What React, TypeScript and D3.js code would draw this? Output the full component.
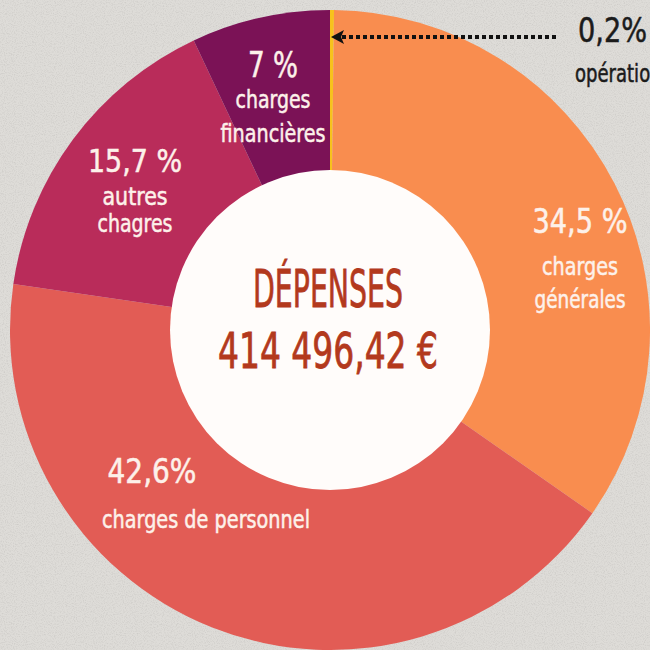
import React, { useRef, useEffect } from "react";
import * as d3 from "d3";

// budget split, clockwise from 12 o'clock
const categories = ["opérations", "charges générales", "charges de personnel", "autres chagres", "charges financières"];
const shares = [0.2, 34.5, 42.6, 15.7, 7];
const percentLabels = ["0,2%", "34,5 %", "42,6%", "15,7 %", "7 %"];
const nameLines = [["opérations"], ["charges", "générales"], ["charges de personnel"], ["autres", "chagres"], ["charges", "financières"]];
const sliceColors = ["#f7c21c", "#f98d4f", "#e25c55", "#b92c5a", "#7b1256"];
const centerTitle = "DÉPENSES";
const centerTotal = "414 496,42 €";

const SIZE = 650;
const FONT = "'Liberation Sans Narrow', 'DejaVu Sans Condensed', 'Roboto', sans-serif";

// hand placed label boxes: x, anchor, baselines, sizes, fitted widths
const labelLayout = {
  "opérations": { x: 578, anchor: "start", pct: [42, 34, 69], lines: [[82, 24, 96]], color: "#1b1b1b" },
  "charges générales": { x: 580, anchor: "middle", pct: [233, 34, 95], lines: [[275, 24, 76], [308, 24, 91]], color: "#fdf1ea" },
  "charges de personnel": { x: 152, anchor: "middle", pct: [483, 33, 89], lines: [[528, 24, 208]], color: "#fdf1ea", lineX: 206 },
  "autres chagres": { x: 135, anchor: "middle", pct: [172, 32, 94], lines: [[205, 24, 65], [232, 24, 75]], color: "#fdf1ea" },
  "charges financières": { x: 273, anchor: "middle", pct: [77, 36, 50], lines: [[108, 24, 75], [142, 24, 105]], color: "#fdf1ea" },
};

const App = () => {
  const ref = useRef(null);

  useEffect(() => {
    const root = d3.select(ref.current);
    root.selectAll("*").remove();
    const svg = root
      .append("svg")
      .attr("width", SIZE)
      .attr("height", SIZE)
      .style("display", "block");

    // paper background
    const defs = svg.append("defs");
    const filt = defs.append("filter").attr("id", "paper").attr("x", 0).attr("y", 0).attr("width", "100%").attr("height", "100%");
    filt.append("feTurbulence").attr("type", "fractalNoise").attr("baseFrequency", 0.9).attr("numOctaves", 2).attr("seed", 3);
    filt.append("feColorMatrix").attr("values", "0 0 0 0 0.35  0 0 0 0 0.34  0 0 0 0 0.33  0 0 0 -1.6 0.9");
    svg.append("rect").attr("width", SIZE).attr("height", SIZE).attr("fill", "#dedcd8");
    svg.append("rect").attr("width", SIZE).attr("height", SIZE).attr("filter", "url(#paper)").attr("opacity", 0.35);

    const cx = 330;
    const cy = 330;
    const outerR = 320;
    const innerR = 160;

    const g = svg.append("g").attr("transform", `translate(${cx},${cy})`);
    const pie = d3.pie<number>().sort(null).value((d) => d);
    const arcs = pie(shares);
    const arc = d3.arc<d3.PieArcDatum<number>>().innerRadius(0).outerRadius(outerR);

    g.selectAll("path.slice")
      .data(arcs)
      .enter()
      .append("path")
      .attr("class", "slice")
      .attr("fill", (d, i) => sliceColors[i])
      .attr("d", arc);

    g.append("circle").attr("r", innerR).attr("fill", "#fffcfa");

    [[centerTitle, -23, 150, 52], [centerTotal, 38, 220, 49]].forEach(([txt, y, w, fs]) => {
      g.append("text")
        .attr("text-anchor", "middle")
        .attr("x", -2)
        .attr("y", y)
        .attr("textLength", w)
        .attr("lengthAdjust", "spacingAndGlyphs")
        .style("font-family", FONT)
        .style("font-size", `${fs}px`)
        .style("fill", "#b3391d")
        .style("stroke", "#b3391d")
        .style("stroke-width", 0.8)
        .text(txt);
    });

    // dotted pointer to the tiny slice
    const arrowY = 37;
    svg.append("line")
      .attr("x1", 342)
      .attr("x2", 556)
      .attr("y1", arrowY)
      .attr("y2", arrowY)
      .attr("stroke", "#111")
      .attr("stroke-width", 4)
      .attr("stroke-dasharray", "4 3");
    svg.append("path")
      .attr("d", d3.line()([[344, arrowY - 7], [331, arrowY], [344, arrowY + 7], [341, arrowY]]) + "Z")
      .attr("fill", "#111");

    categories.forEach((name, i) => {
      const lay = labelLayout[name];
      const t = svg.append("g")
        .style("font-family", FONT)
        .style("fill", lay.color)
        .style("stroke", lay.color)
        .style("stroke-width", 0.5);
      t.append("text")
        .attr("x", lay.x)
        .attr("y", lay.pct[0])
        .attr("text-anchor", lay.anchor)
        .attr("textLength", lay.pct[2])
        .attr("lengthAdjust", "spacingAndGlyphs")
        .style("font-size", `${lay.pct[1]}px`)
        .text(percentLabels[i]);
      nameLines[i].forEach((line, j) => {
        const [y, fs, w] = lay.lines[j];
        t.append("text")
          .attr("x", lay.lineX ?? (lay.anchor === "start" ? lay.x - 3 : lay.x))
          .attr("y", y)
          .attr("text-anchor", lay.anchor)
          .attr("textLength", w)
          .attr("lengthAdjust", "spacingAndGlyphs")
          .style("font-size", `${fs}px`)
          .text(line);
      });
    });
  }, []);

  return <div ref={ref} style={{ position: "fixed", left: 0, top: 0 }}></div>;
};

export default App;
